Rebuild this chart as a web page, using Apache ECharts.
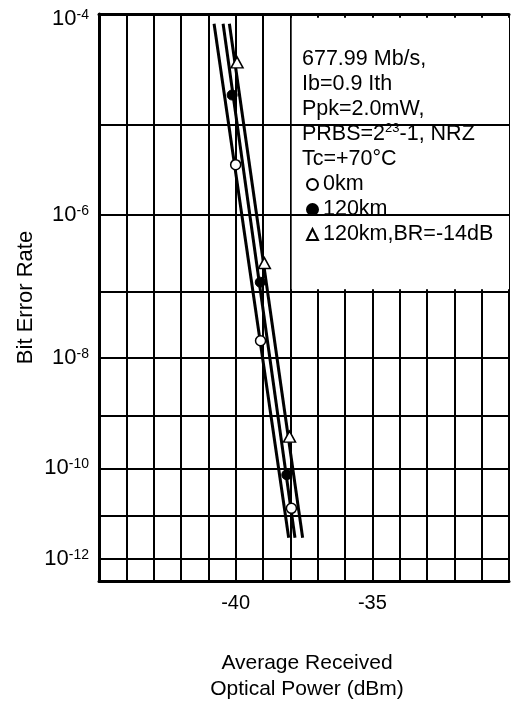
<!DOCTYPE html>
<html><head><meta charset="utf-8">
<script src="https://cdn.jsdelivr.net/npm/echarts@6/dist/echarts.min.js"></script>
<style>html,body{margin:0;padding:0;background:#fff}#c{width:512px;height:707px}</style>
</head><body><div id="c"></div>
<script>
// BER = 10^-n ; n values on a log axis
const berExpTicks = [4, 5, 6, 7, 8, 9, 10, 11, 12];
const berExpLabels = [4, 6, 8, 10, 12];
const xTickLabels = [-40, -35];

// measured points (x: dBm, y: n where BER = 10^-n)
const power0km = [-40.0, -39.09, -37.96];
const berExp0km = [5.42, 7.73, 10.84];
const power120km = [-40.13, -39.10, -38.13];
const berExp120km = [4.71, 6.87, 10.13];
const powerBR = [-39.95, -38.95, -38.03];
const berExpBR = [4.41, 6.61, 9.38];

// fitted lines (end points)
const fitBerExp = [4.08, 11.5];
const fit0km = [-40.79, -38.06];
const fit120km = [-40.46, -37.83];
const fitBR = [-40.23, -37.55];

const FONT = "'Liberation Sans', Arial, Helvetica, sans-serif";
const zip = (xs, ys) => xs.map((x, i) => [x, ys[i]]);

const chart = echarts.init(document.getElementById('c'));
const mkLine = (name, xs) => ({
  name, type: 'line', data: zip(xs, fitBerExp), showSymbol: false, symbol: 'none',
  lineStyle: { color: '#000', width: 3 }, z: 3, silent: true
});
chart.setOption({
  animation: false,
  backgroundColor: '#fff',
  textStyle: { fontFamily: FONT, color: '#000' },
  grid: { left: 99, top: 14, right: -0.4, bottom: 121.3, containLabel: false },
  xAxis: [{
    type: 'value', min: -45, max: -30, interval: 1, position: 'bottom',
    axisLine: { show: true, lineStyle: { color: '#000', width: 3 } },
    axisTick: { show: false },
    splitLine: { show: true, lineStyle: { color: '#000', width: 2 } },
    axisLabel: { margin: 12, fontSize: 20, color: '#000', fontFamily: FONT,
      formatter: v => xTickLabels.includes(v) ? String(v) : '' },
    name: 'Average Received\nOptical Power (dBm)', nameLocation: 'middle', nameGap: 69,
    nameTextStyle: { fontSize: 21, lineHeight: 26, color: '#000', fontFamily: FONT, padding: [0, 0, 0, 6] }
  }, {
    type: 'value', min: -45, max: -30, position: 'top',
    axisLine: { show: true, lineStyle: { color: '#000', width: 3 } },
    axisTick: { show: false }, axisLabel: { show: false }, splitLine: { show: false }
  }],
  yAxis: {
    type: 'log', logBase: 10, min: 4, max: 12.55, inverse: true,
    axisLine: { show: true, lineStyle: { color: '#000', width: 3 } },
    axisTick: { show: false }, axisLabel: { show: false }, splitLine: { show: false },
    name: 'Bit Error Rate', nameLocation: 'middle', nameRotate: 90, nameGap: 62,
    nameTextStyle: { fontSize: 22, color: '#000', fontFamily: FONT }
  },
  legend: {
    orient: 'vertical', left: 301, top: 167, itemWidth: 11, itemHeight: 11, itemGap: 0,
    textStyle: { fontSize: 21.5, lineHeight: 25, color: '#000', fontFamily: FONT },
    data: ['0km', '120km', '120km,BR=-14dB']
  },
  graphic: [{
    type: 'text', left: 302, top: 47, z: 10,
    style: {
      text: '677.99 Mb/s,\nIb=0.9 Ith\nPpk=2.0mW,\nPRBS=2{s|23}-1, NRZ\nTc=+70°C',
      font: '21.5px ' + FONT, fill: '#000', lineHeight: 25,
      rich: { s: { fontSize: 13, fontFamily: FONT, lineHeight: 19, verticalAlign: 'top' } }
    }
  }],
  series: [
    { // grid lines + y labels
      type: 'scatter', data: [], z: 1, silent: true,
      markLine: {
        silent: true, symbol: ['none', 'none'], animation: false,
        lineStyle: { color: '#000', width: 2, type: 'solid' },
        label: { show: false },
        data: berExpTicks.map((n, i) => ({
          yAxis: n,
          label: berExpLabels.includes(n)
            ? { show: true, position: 'start', distance: 10, offset: i === 0 ? [0, 5] : [0, 0],
                formatter: '{b|10}{s|-' + n + '}',
                rich: { b: { fontSize: 22, fontFamily: FONT, color: '#000', lineHeight: 22 },
                        s: { fontSize: 14, fontFamily: FONT, color: '#000', lineHeight: 16, verticalAlign: 'top' } } }
            : { show: false }
        }))
      }
    },
    { // white box behind the annotation text
      type: 'scatter', data: [], z: 2, silent: true,
      markArea: {
        silent: true, itemStyle: { color: '#fff', opacity: 1 },
        data: [[{ coord: [-37.95, 4.03] }, { coord: [-30, 6.97] }]]
      }
    },
    mkLine('fit0', fit0km),
    mkLine('fit120', fit120km),
    mkLine('fitBR', fitBR),
    { name: '0km', type: 'scatter', data: zip(power0km, berExp0km), symbol: 'circle', symbolSize: 10, z: 4,
      itemStyle: { color: '#fff', borderColor: '#000', borderWidth: 1.5, opacity: 1 } },
    { name: '120km', type: 'scatter', data: zip(power120km, berExp120km), symbol: 'circle', symbolSize: 10, z: 4,
      itemStyle: { color: '#000', borderColor: '#000', borderWidth: 1, opacity: 1 } },
    { name: '120km,BR=-14dB', type: 'scatter', data: zip(powerBR, berExpBR), symbol: 'triangle', symbolSize: [12, 11], z: 4,
      itemStyle: { color: '#fff', borderColor: '#000', borderWidth: 1.5, opacity: 1 } }
  ]
});
</script></body></html>
